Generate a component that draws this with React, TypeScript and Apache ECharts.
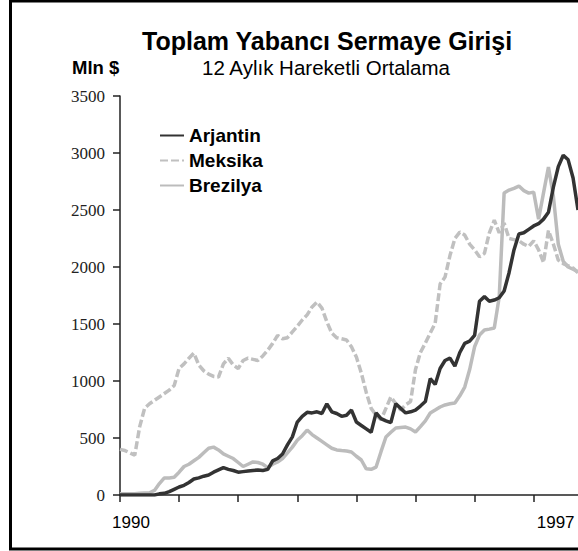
import React, { useEffect, useRef } from "react";
import * as echarts from "echarts";

// Months since Jan 1990 (0..93), 12-month moving averages, Mln $
const months: number[] = Array.from({ length: 94 }, (_, i) => i);

const arjantin: number[] = [
  0, 0, 0, 0, 0, 0, 0, 0, 10, 15, 30, 50, 70, 85, 110, 140, 150, 165, 175, 200,
  220, 240, 225, 215, 200, 205, 210, 215, 220, 215, 225, 300, 320, 360, 440, 510,
  640, 690, 725, 720, 730, 715, 800, 730, 715, 690, 700, 745, 640, 610, 580, 550,
  720, 670, 650, 635, 800, 760, 720, 730, 745, 780, 820, 1020, 970, 1110, 1180,
  1200, 1130, 1250, 1330, 1350, 1400, 1700, 1740, 1700, 1710, 1730, 1790, 1950,
  2150, 2290, 2300, 2330, 2360, 2380, 2420, 2480, 2700, 2880, 2980, 2940, 2780,
  2500,
];

const meksika: number[] = [
  400, 390, 370, 350, 600, 760, 800, 830, 860, 890, 920, 960, 1110, 1150, 1200,
  1245, 1140, 1090, 1060, 1040, 1035, 1150, 1200, 1140, 1110, 1180, 1200, 1190,
  1180, 1220, 1270, 1330, 1400, 1370, 1380, 1430, 1480, 1535, 1580, 1650, 1693,
  1640, 1520, 1420, 1380, 1370, 1360, 1300, 1210, 1070, 900, 760, 700, 660, 760,
  860, 800, 745, 790, 820, 1100, 1250, 1333, 1420, 1508, 1850, 1912, 2100, 2250,
  2306, 2280, 2200, 2150, 2090, 2120, 2300, 2410, 2300, 2385, 2250, 2240, 2230,
  2200, 2180, 2230, 2150, 2040, 2320, 2200, 2060, 2030, 2010, 1990, 1950,
];

const brezilya: number[] = [
  10, 10, 10, 12, 15, 18, 20, 40, 100, 150, 150, 155, 200, 250, 270, 300, 330,
  370, 410, 420, 395, 360, 340, 320, 285, 250, 270, 290, 285, 270, 240, 270, 290,
  320, 370, 420, 480, 520, 570, 530, 500, 470, 440, 410, 395, 390, 386, 377, 340,
  307, 230, 225, 245, 380, 509, 550, 588, 592, 596, 580, 553, 600, 650, 719, 745,
  772, 790, 800, 807, 870, 947, 1100, 1300, 1403, 1447, 1455, 1465, 1737, 2650,
  2675, 2690, 2710, 2670, 2648, 2657, 2420, 2650, 2877, 2620, 2200, 2050, 2000,
  1980, 1960,
];

const seriesNames: string[] = ["Arjantin", "Meksika", "Brezilya"];
const xTickMonths: number[] = [0, 12, 24, 36, 48, 60, 72, 84];
const xLabelMonths: number[] = [0, 84];
const xLabelTexts: string[] = ["1990", "1997"];

const titleText = "Toplam Yabancı Sermaye Girişi";
const subtitleText = "12 Aylık Hareketli Ortalama";
const unitText = "Mln $";

const SANS = '"Liberation Sans", Arial, sans-serif';
const SERIF = '"Liberation Serif", "Times New Roman", serif';

function toPairs(vals: number[]): number[][] {
  return vals.map((v, i) => [months[i], v]);
}

export default function App() {
  const ref = useRef<HTMLDivElement>(null);

  useEffect(() => {
    if (!ref.current) return;
    const chart = echarts.init(ref.current, undefined, { renderer: "svg" });
    chart.setOption({
      animation: false,
      backgroundColor: "#ffffff",
      title: [
        {
          text: titleText,
          left: 142,
          top: 28,
          padding: 0,
          textStyle: { fontFamily: SANS, fontSize: 25, fontWeight: "bold", color: "#000" },
        },
        {
          text: subtitleText,
          left: 202,
          top: 57,
          padding: 0,
          textStyle: { fontFamily: SANS, fontSize: 20.5, fontWeight: "normal", color: "#000" },
        },
        {
          text: unitText,
          left: 72,
          top: 58,
          padding: 0,
          textStyle: { fontFamily: SANS, fontSize: 18.5, fontWeight: "bold", color: "#000" },
        },
      ],
      legend: {
        orient: "vertical",
        left: 159,
        top: 126,
        padding: 0,
        itemWidth: 24,
        itemHeight: 14,
        itemGap: 6,
        itemStyle: { opacity: 0 },
        textStyle: { fontFamily: SANS, fontSize: 19, fontWeight: "bold", color: "#000" },
        data: seriesNames,
      },
      grid: { left: 120, right: 0, top: 96, bottom: 56, containLabel: false },
      xAxis: {
        type: "value",
        min: 0,
        max: 93,
        splitLine: { show: false },
        axisLine: { lineStyle: { color: "#222", width: 1.5 } },
        axisTick: {
          customValues: xTickMonths,
          length: 7,
          lineStyle: { color: "#222", width: 1.5 },
        },
        axisLabel: {
          customValues: xLabelMonths,
          margin: 19,
          fontFamily: SANS,
          fontSize: 17,
          color: "#000",
          formatter: (v: number) => {
            const idx = xLabelMonths.indexOf(Math.round(v));
            if (idx < 0) return "";
            return idx === 0 ? `{a|${xLabelTexts[idx]}}` : `{b|${xLabelTexts[idx]}}`;
          },
          rich: {
            a: { fontFamily: SANS, fontSize: 17, color: "#000", padding: [0, 0, 0, 22] },
            b: { fontFamily: SANS, fontSize: 17, color: "#000", padding: [0, 0, 0, 44] },
          },
        },
      },
      yAxis: {
        type: "value",
        min: 0,
        max: 3500,
        interval: 500,
        splitLine: { show: false },
        axisLine: { show: true, lineStyle: { color: "#222", width: 1.5 } },
        axisTick: { show: true, length: 7, lineStyle: { color: "#222", width: 1.5 } },
        axisLabel: {
          margin: 15,
          fontFamily: SERIF,
          fontSize: 17,
          color: "#222",
          formatter: (v: number) => String(v),
        },
      },
      series: [
        {
          name: seriesNames[0],
          type: "line",
          data: toPairs(arjantin),
          showSymbol: false,
          symbol: "none",
          z: 4,
          lineStyle: { color: "#333333", width: 3.5 },
          itemStyle: { color: "#333333" },
        },
        {
          name: seriesNames[1],
          type: "line",
          data: toPairs(meksika),
          showSymbol: false,
          symbol: "none",
          z: 3,
          lineStyle: { color: "#c0c0c0", width: 3.5, type: [8, 3] },
          itemStyle: { color: "#c0c0c0" },
        },
        {
          name: seriesNames[2],
          type: "line",
          data: toPairs(brezilya),
          showSymbol: false,
          symbol: "none",
          z: 2,
          lineStyle: { color: "#bcbcbc", width: 3.5 },
          itemStyle: { color: "#bcbcbc" },
        },
      ],
      graphic: [
        {
          type: "rect",
          silent: true,
          z: 100,
          shape: { x: 10.5, y: 1, width: 700, height: 548 },
          style: { fill: "none", stroke: "#000", lineWidth: 3 },
        },
      ],
    });
    return () => chart.dispose();
  }, []);

  return (
    <div
      ref={ref}
      style={{ position: "absolute", left: 0, top: 0, width: 578, height: 551 }}
    />
  );
}
